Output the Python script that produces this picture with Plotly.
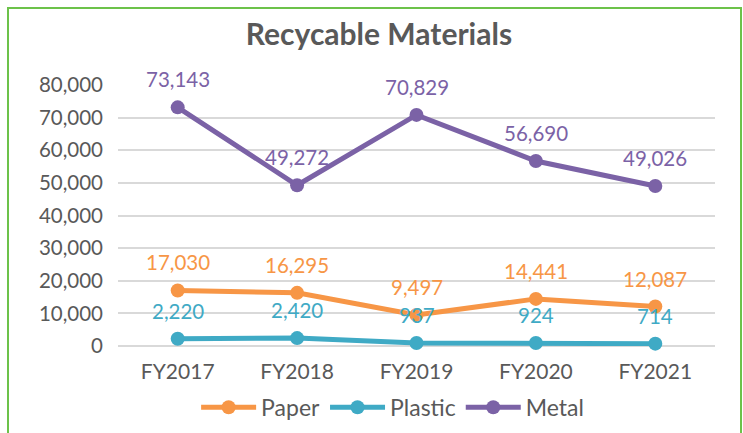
import plotly.graph_objects as go

years = ['FY2017', 'FY2018', 'FY2019', 'FY2020', 'FY2021']
paper = [17030, 16295, 9497, 14441, 12087]
plastic = [2220, 2420, 937, 924, 714]
metal = [73143, 49272, 70829, 56690, 49026]

colors = {'Paper': '#F79646', 'Plastic': '#3FAAC5', 'Metal': '#7B62A6'}
font_name = 'Lato, Open Sans, sans-serif'

fig = go.Figure()
for name, vals in [('Paper', paper), ('Plastic', plastic), ('Metal', metal)]:
    fig.add_trace(go.Scatter(
        x=years, y=vals, name=name,
        mode='lines+markers',
        line=dict(color=colors[name], width=5),
        marker=dict(color=colors[name], size=14),
        cliponaxis=False,
    ))
    # data labels above each point
    for x, v in zip(years, vals):
        fig.add_annotation(x=x, y=v, text=f'{v:,}', showarrow=False,
                           yshift=28, font=dict(color=colors[name], size=20.5, family=font_name))

fig.update_layout(
    width=743, height=433,
    margin=dict(l=118, r=28, t=85, b=87, autoexpand=False),
    paper_bgcolor='white', plot_bgcolor='white',
    font=dict(family=font_name, color='#595959'),
    title=dict(text='<b>Recycable Materials</b>', x=0.51, xanchor='center',
               y=0.92, yanchor='middle', font=dict(size=30, color='#595959')),
    legend=dict(orientation='h', x=0.46, xanchor='center', y=-0.235, yanchor='middle',
                font=dict(size=23, color='#595959'), itemwidth=55,
                traceorder='normal', bgcolor='rgba(0,0,0,0)'),
    showlegend=True,
)
fig.update_xaxes(range=[-0.5, 4.5], showgrid=False, showline=False, ticks='',
                 automargin=False, ticklabelstandoff=11,
                 tickfont=dict(size=21, color='#595959'))
fig.update_yaxes(range=[0, 80000], dtick=10000, tickformat=',d', showgrid=True,
                 gridcolor='#D9D9D9', gridwidth=1.5, zeroline=True, zerolinecolor='#D9D9D9',
                 zerolinewidth=1.5, showline=False, ticks='', ticklen=0, automargin=False,
                 ticklabelstandoff=14, tickfont=dict(size=20.5, color='#595959'))
# green chart border
fig.add_shape(type='rect', xref='paper', yref='paper',
              x0=(8 - 118) / 597, x1=(741 - 118) / 597, y0=(346 - 445) / 261, y1=(346 - 8) / 261,
              line=dict(color='#6CC24A', width=2), fillcolor='rgba(0,0,0,0)', layer='below')

fig.write_html('out.html', config={'displayModeBar': False},
               post_script="document.body.style.margin='0';")
